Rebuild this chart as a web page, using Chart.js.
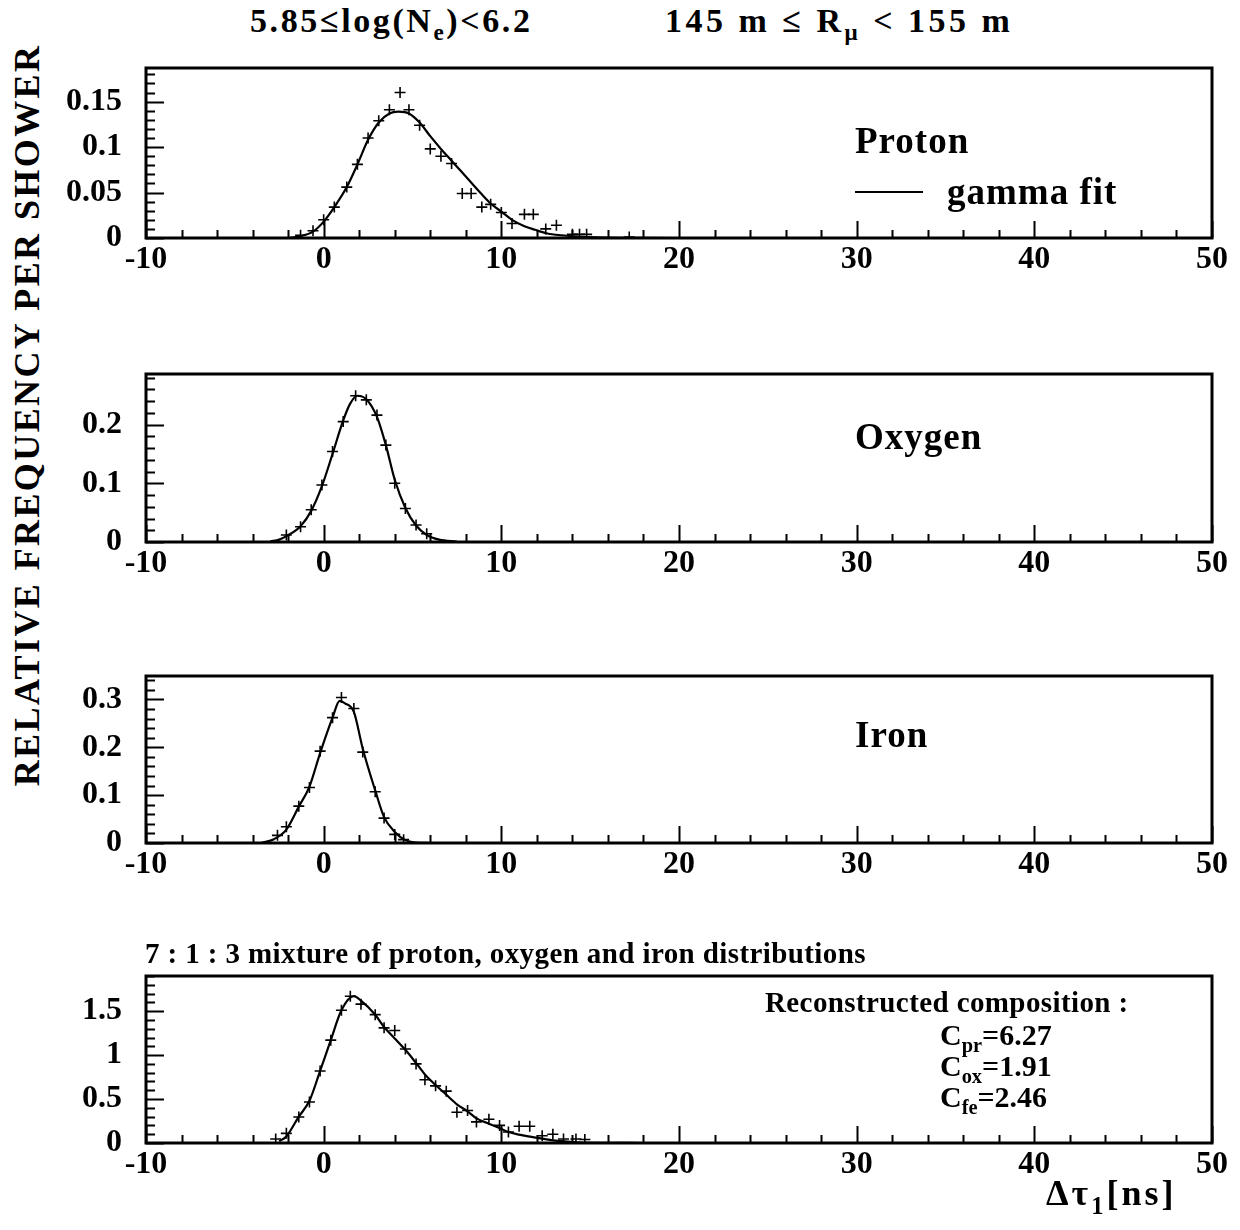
<!DOCTYPE html>
<html>
<head>
<meta charset="utf-8">
<script src="https://cdn.jsdelivr.net/npm/chart.js@4.4.1/dist/chart.umd.min.js"></script>
<style>
  body { margin: 0; background: #fff; }
  #wrap { position: relative; width: 1240px; height: 1230px; overflow: hidden;
          font-family: "Liberation Serif", "Times New Roman", serif; font-weight: bold; color: #000; }
  #wrap canvas { position: absolute; left: 0; }
  .t { position: absolute; white-space: nowrap; line-height: 1; }
  .sub { position: relative; font-size: 0.68em; top: 0.35em; }
</style>
</head>
<body>
<div id="wrap">
  <div class="t" style="left:250px;top:4px;font-size:34px;letter-spacing:2.6px">5.85≤log(N<span class="sub">e</span>)&lt;6.2</div>
  <div class="t" style="left:665px;top:4px;font-size:34px;letter-spacing:3.5px">145 m ≤ R<span class="sub">μ</span> &lt; 155 m</div>
  <div class="t" id="ytitle" style="left:-348px;top:395px;width:750px;height:40px;text-align:center;font-size:36px;line-height:40px;letter-spacing:2.4px;transform:rotate(-90deg);transform-origin:50% 50%">RELATIVE FREQUENCY PER SHOWER</div>

  <canvas id="c1" width="1240" height="232" style="top:56px"></canvas>
  <canvas id="c2" width="1240" height="230" style="top:362px"></canvas>
  <canvas id="c3" width="1240" height="229" style="top:664px"></canvas>
  <canvas id="c4" width="1240" height="229" style="top:964px"></canvas>

  <div class="t" style="left:855px;top:122px;font-size:37px;letter-spacing:1px">Proton</div>
  <div style="position:absolute;left:855px;top:191px;width:68px;border-top:2px solid #000"></div>
  <div class="t" style="left:947px;top:173px;font-size:37px;letter-spacing:1px">gamma fit</div>
  <div class="t" style="left:855px;top:418px;font-size:37px;letter-spacing:1px">Oxygen</div>
  <div class="t" style="left:855px;top:716px;font-size:37px;letter-spacing:1px">Iron</div>
  <div class="t" style="left:145px;top:939px;font-size:29px;letter-spacing:0.4px">7 : 1 : 3 mixture of proton, oxygen and iron distributions</div>
  <div class="t" style="left:765px;top:988px;font-size:29px;letter-spacing:0.4px">Reconstructed composition :</div>
  <div class="t" style="left:940px;top:1020px;font-size:30px">C<span class="sub">pr</span>=6.27</div>
  <div class="t" style="left:940px;top:1051px;font-size:30px">C<span class="sub">ox</span>=1.91</div>
  <div class="t" style="left:940px;top:1082px;font-size:30px">C<span class="sub">fe</span>=2.46</div>
  <div class="t" style="left:1046px;top:1175px;font-size:36px;letter-spacing:3px">Δτ<span class="sub">1</span>[ns]</div>
</div>

<script>
// --- data ---
const xTickLabels = [-10, 0, 10, 20, 30, 40, 50];

const protonX = [-1.3, -0.6, 0.0, 0.6, 1.3, 1.9, 2.5, 3.1, 3.7, 4.3, 4.8, 5.4, 6.0, 6.6, 7.2, 7.8, 8.3, 8.9, 9.4, 10.0, 10.6, 11.3, 11.8, 12.5, 13.1, 14.0, 14.4, 14.8, 17.2];
const protonY = [0.003, 0.008, 0.020, 0.034, 0.056, 0.081, 0.110, 0.129, 0.141, 0.160, 0.141, 0.124, 0.098, 0.090, 0.082, 0.049, 0.049, 0.034, 0.037, 0.028, 0.016, 0.026, 0.026, 0.010, 0.014, 0.004, 0.004, 0.004, 0.001];
const protonFitX = [-2.0, -1.3, -0.6, 0.0, 0.6, 1.3, 1.9, 2.5, 3.1, 3.7, 4.2, 4.8, 5.4, 6.0, 6.6, 7.2, 7.8, 8.3, 8.9, 9.4, 10.0, 10.6, 11.3, 11.9, 12.6, 13.4, 14.5, 16.0, 18.0, 20.0];
const protonFitY = [0.0, 0.002, 0.007, 0.018, 0.034, 0.056, 0.081, 0.108, 0.127, 0.137, 0.139, 0.137, 0.127, 0.112, 0.098, 0.085, 0.072, 0.061, 0.048, 0.038, 0.029, 0.020, 0.013, 0.009, 0.005, 0.003, 0.0012, 0.0004, 0.0001, 0];
const protonYTicks = [0, 0.05, 0.1, 0.15];

const oxygenX = [-2.1, -1.3, -0.7, -0.1, 0.5, 1.1, 1.8, 2.4, 3.0, 3.5, 4.0, 4.6, 5.2, 5.8];
const oxygenY = [0.012, 0.026, 0.055, 0.097, 0.154, 0.205, 0.249, 0.242, 0.216, 0.165, 0.100, 0.057, 0.029, 0.014];
const oxygenFitX = [-3.0, -2.5, -2.1, -1.3, -0.7, -0.1, 0.5, 1.1, 1.5, 1.9, 2.4, 3.0, 3.5, 4.0, 4.6, 5.2, 5.8, 6.5, 7.5];
const oxygenFitY = [0.001, 0.004, 0.010, 0.027, 0.053, 0.095, 0.150, 0.207, 0.236, 0.249, 0.243, 0.213, 0.165, 0.106, 0.058, 0.028, 0.012, 0.004, 0.0005];
const oxygenYTicks = [0, 0.1, 0.2];

const ironX = [-2.6, -2.1, -1.4, -0.8, -0.2, 0.5, 1.0, 1.7, 2.2, 2.9, 3.4, 4.0, 4.5];
const ironY = [0.016, 0.034, 0.077, 0.116, 0.192, 0.262, 0.304, 0.281, 0.190, 0.107, 0.052, 0.018, 0.007];
const ironFitX = [-3.5, -2.8, -2.1, -1.4, -0.8, -0.2, 0.5, 0.9, 1.2, 1.7, 2.2, 2.9, 3.4, 4.0, 4.6, 5.2, 6.0];
const ironFitY = [0.0, 0.008, 0.028, 0.076, 0.118, 0.188, 0.262, 0.297, 0.292, 0.274, 0.197, 0.110, 0.054, 0.023, 0.006, 0.001, 0];
const ironYTicks = [0, 0.1, 0.2, 0.3];

const mixX = [-2.7, -2.1, -1.4, -0.8, -0.2, 0.4, 1.0, 1.5, 2.1, 2.9, 3.4, 4.0, 4.6, 5.2, 5.7, 6.3, 6.9, 7.5, 8.1, 8.6, 9.3, 9.9, 10.4, 11.0, 11.6, 12.3, 12.9, 13.5, 14.2, 14.7];
const mixY = [0.045, 0.11, 0.295, 0.466, 0.82, 1.17, 1.51, 1.67, 1.58, 1.46, 1.31, 1.28, 1.07, 0.90, 0.72, 0.65, 0.59, 0.35, 0.37, 0.24, 0.27, 0.20, 0.125, 0.19, 0.19, 0.083, 0.10, 0.045, 0.045, 0.04];
const mixFitX = [-2.5, -2.1, -1.4, -0.8, -0.2, 0.4, 1.0, 1.7, 2.1, 2.9, 3.4, 4.0, 4.6, 5.2, 5.7, 6.3, 6.9, 7.5, 8.1, 8.6, 9.3, 9.9, 10.4, 11.0, 11.7, 12.9, 14.3, 16.0, 18.0];
const mixFitY = [0.02, 0.075, 0.30, 0.48, 0.82, 1.17, 1.51, 1.67, 1.62, 1.46, 1.32, 1.19, 1.06, 0.91, 0.78, 0.66, 0.55, 0.44, 0.36, 0.28, 0.22, 0.17, 0.125, 0.095, 0.07, 0.03, 0.008, 0.002, 0];
const mixYTicks = [0, 0.5, 1, 1.5];

// --- helpers ---
const FONT = { family: '"Liberation Serif", "Times New Roman", serif', weight: 'bold', size: 32 };
const isIn = (arr, v) => arr.some(t => Math.abs(t - v) < 1e-9);
const pts = (xs, ys) => xs.map((x, i) => ({ x: x, y: ys[i] }));

// frame + inward ticks like the PAW plots
const frameTicks = {
  id: 'frameTicks',
  afterDraw(chart, args, opts) {
    const { ctx, chartArea: a, scales: { x, y } } = chart;
    ctx.save();
    ctx.strokeStyle = '#000';
    ctx.lineWidth = 2;
    ctx.beginPath();
    x.ticks.forEach(t => {
      const px = Math.round(x.getPixelForValue(t.value)) + 0.5;
      const len = isIn(xTickLabels, t.value) ? 17 : 8;
      ctx.moveTo(px, a.bottom); ctx.lineTo(px, a.bottom - len);
    });
    y.ticks.forEach(t => {
      const py = Math.round(y.getPixelForValue(t.value)) + 0.5;
      const len = isIn(opts.yMajor, t.value) ? 18 : 9;
      ctx.moveTo(a.left, py); ctx.lineTo(a.left + len, py);
    });
    ctx.stroke();
    ctx.lineWidth = 3;
    ctx.strokeRect(a.left, a.top, a.right - a.left, a.bottom - a.top);
    ctx.restore();
  }
};

function makePanel(id, px, py, fx, fy, yMax, yStep, yMajor) {
  return new Chart(document.getElementById(id), {
    type: 'scatter',
    data: {
      datasets: [
        { data: pts(fx, fy), showLine: true, borderColor: '#000', borderWidth: 2.2,
          pointRadius: 0, cubicInterpolationMode: 'monotone', fill: false },
        { data: pts(px, py), pointStyle: 'cross', pointRadius: 5.5, borderWidth: 1.6,
          borderColor: '#000', backgroundColor: '#000' }
      ]
    },
    options: {
      responsive: false,
      devicePixelRatio: 1,
      animation: false,
      layout: { padding: { left: 0, right: 28, top: 12, bottom: 0 } },
      plugins: { legend: { display: false }, tooltip: { enabled: false },
                 frameTicks: { yMajor: yMajor } },
      scales: {
        x: {
          type: 'linear', min: -10, max: 50,
          grid: { display: false, drawTicks: false }, border: { display: false },
          ticks: { stepSize: 2, autoSkip: false, maxRotation: 0, padding: 3, color: '#000', font: FONT,
                   includeBounds: false,
                   callback: v => isIn(xTickLabels, v) ? String(v) : '' },
          afterFit: s => { s.height = 50; s.paddingLeft = 0; s.paddingRight = 0; }
        },
        y: {
          type: 'linear', min: 0, max: yMax,
          grid: { display: false, drawTicks: false }, border: { display: false },
          ticks: { stepSize: yStep, autoSkip: false, padding: 24, color: '#000', font: FONT,
                   includeBounds: false,
                   callback: v => isIn(yMajor, v) ? String(+v.toFixed(3)) : '' },
          afterFit: s => { s.width = 146; s.paddingTop = 0; s.paddingBottom = 0; }
        }
      }
    },
    plugins: [frameTicks]
  });
}

makePanel('c1', protonX, protonY, protonFitX, protonFitY, 0.187, 0.01, protonYTicks);
makePanel('c2', oxygenX, oxygenY, oxygenFitX, oxygenFitY, 0.286, 0.02, oxygenYTicks);
makePanel('c3', ironX, ironY, ironFitX, ironFitY, 0.349, 0.02, ironYTicks);
makePanel('c4', mixX, mixY, mixFitX, mixFitY, 1.90, 0.1, mixYTicks);
</script>
</body>
</html>
